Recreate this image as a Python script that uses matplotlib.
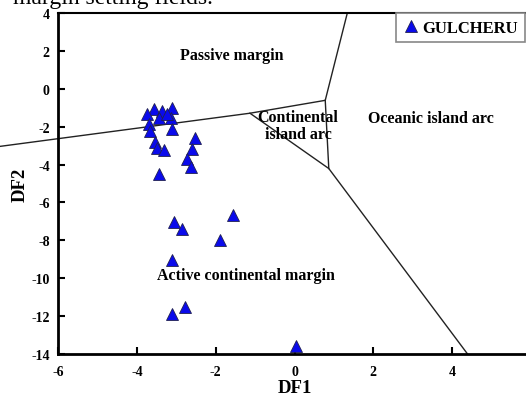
import matplotlib.pyplot as plt

# GULCHERU samples (DF1, DF2)
df1 = [-3.56, -3.12, -3.37, -3.73, -3.45, -3.14, -3.24, -3.68, -3.12, -3.66,
       -3.54, -3.49, -3.31, -2.52, -2.59, -2.73, -2.63, -3.45,
       -3.06, -2.85, -1.57, -1.89, -3.11, -2.77, -3.12, 0.03]
df2 = [-1.06, -1.02, -1.19, -1.33, -1.54, -1.54, -1.35, -1.86, -2.12, -2.21,
       -2.82, -3.14, -3.23, -2.61, -3.19, -3.72, -4.13, -4.51,
       -7.03, -7.38, -6.68, -8.00, -9.04, -11.50, -11.90, -13.58]

# field boundaries (Bhatia 1983)
bound_x = [[-7.47, -1.13, 0.78, 1.34],
           [0.78, 0.87],
           [-1.13, 0.87, 4.39]]
bound_y = [[-3.04, -1.29, -0.61, 4.0],
           [-0.61, -4.21],
           [-1.29, -4.21, -14.0]]

fields = ['Passive margin', 'Continental\nisland arc', 'Oceanic island arc',
          'Active continental margin']
field_x = [-1.58, 0.09, 3.45, -1.23]
field_y = [1.77, -1.93, -1.56, -9.85]

plt.rcParams['font.family'] = ['Liberation Serif', 'DejaVu Serif']
plt.rcParams['axes.unicode_minus'] = False

fig = plt.figure(figsize=(5.26, 4.02), dpi=100)
ax = fig.add_axes([58 / 526, 1 - 355 / 402, 473 / 526, 341 / 402])

for bx, by in zip(bound_x, bound_y):
    ax.plot(bx, by, color='#222222', linewidth=1.0, clip_on=False, zorder=1)

ax.plot(df1, df2, linestyle='none', marker='^', markersize=8,
        markerfacecolor='#0a0aeb', markeredgecolor='#202050',
        markeredgewidth=0.6, label='GULCHERU', zorder=3)

for name, fx, fy in zip(fields, field_x, field_y):
    ax.text(fx, fy, name, ha='center', va='center', fontsize=11.5,
            fontweight='bold', linespacing=1.1)

ax.set_xlim(-6, 6)
ax.set_ylim(-14, 4)
ax.set_xticks([-6, -4, -2, 0, 2, 4])
ax.set_yticks(range(-14, 5, 2))
ax.tick_params(direction='in', length=5, width=1.5, labelsize=10, pad=6)
ax.tick_params(axis='x', pad=8)
for lab in ax.get_xticklabels() + ax.get_yticklabels():
    lab.set_fontweight('bold')

ax.spines['right'].set_visible(False)
ax.spines['left'].set_linewidth(2)
ax.spines['bottom'].set_linewidth(2)
ax.spines['top'].set_linewidth(1.5)

ax.set_xlabel('DF1', fontsize=13.5, fontweight='bold', labelpad=1)
ax.set_ylabel('DF2', fontsize=13.5, fontweight='bold', labelpad=2)

leg = ax.legend(loc='upper right', bbox_to_anchor=(525 / 526, 1 - 14 / 402),
                bbox_transform=fig.transFigure, borderaxespad=0,
                fancybox=False, framealpha=1, edgecolor='#888888',
                handletextpad=0.2, handlelength=1.0, borderpad=0.4,
                prop={'weight': 'bold', 'size': 12})
leg.get_frame().set_linewidth(1.2)

# caption of the figure above, cut off at the top edge
fig.text(13 / 526, 1 - 4 / 402, 'margin setting fields.', fontsize=17,
         va='baseline', ha='left')

fig.savefig('out.png', dpi=100)
